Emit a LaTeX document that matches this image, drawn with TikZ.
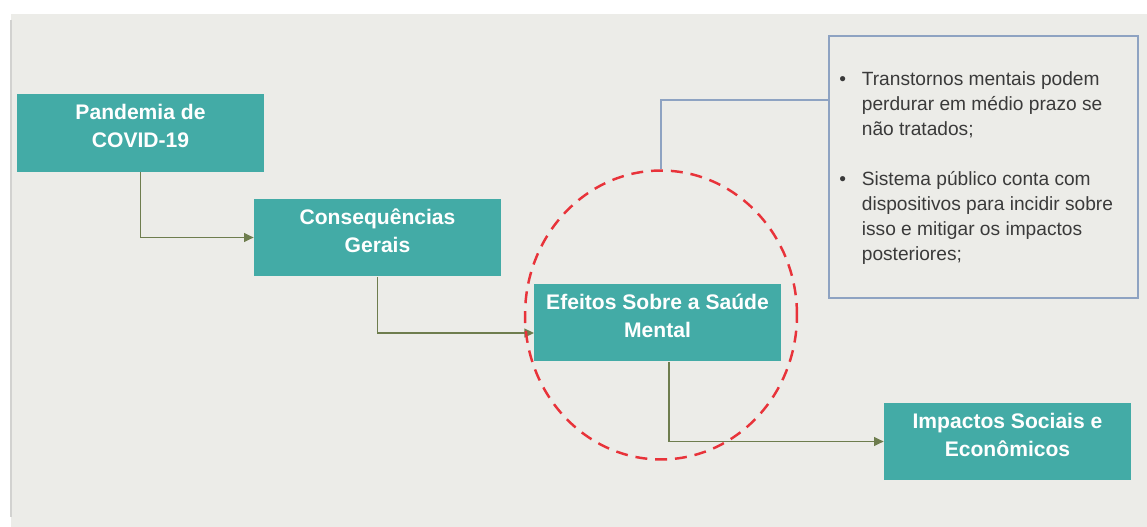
\documentclass[tikz,border=0pt]{standalone}
\usepackage{fontspec}
\setmainfont{Liberation Sans}
\usepackage{tikz}
\usetikzlibrary{arrows.meta, shapes.geometric}
\tikzset{>={Triangle[length=5.5pt, width=5pt]}}

\definecolor{tealbox}{HTML}{43ABA6}
\definecolor{bggray}{HTML}{ECECE8}
\definecolor{edgegray}{HTML}{D2D2D0}
\definecolor{olivearrow}{HTML}{6E7D4E}
\definecolor{circred}{HTML}{E8333A}
\definecolor{infoblue}{HTML}{8EA3C2}
\definecolor{infotext}{HTML}{3A3A3A}

\tikzset{
  stepbox/.style={fill=tealbox, text=white, font=\bfseries\fontsize{12}{16}\selectfont,
    minimum width=4.94cm, minimum height=1.56cm, align=center, inner sep=0pt, text depth=0.28cm},
  flow/.style={->, olivearrow, line width=1pt},
}

\begin{document}
\begin{tikzpicture}[x=0.02cm, y=-0.02cm]
\useasboundingbox (0,0) rectangle (1147,527);
\fill[bggray] (11,14) rectangle (1147,527);
\draw[edgegray, line width=1.2pt] (11,20) -- (11,517);

\node[stepbox] (A) at (140.5,133) {Pandemia de\\COVID-19};
\node[stepbox] (B) at (377.5,237.5) {Consequências\\Gerais};
\node[stepbox] (C) at (657.5,322.5) {Efeitos Sobre a Saúde\\Mental};
\node[stepbox] (D) at (1007.5,441.5) {Impactos Sociais e\\Econômicos};
\coordinate (Cin) at (534,333);
\coordinate (Cd) at (669,362);

\draw[flow](A.south) |- (B.west);
\draw[flow](B.south) |- (Cin);
\draw[flow](Cd) |- (D.west);

\node[draw, ellipse, circred, line width=1.4pt, dash pattern=on 6.8pt off 4.5pt,
  minimum width=5.44cm, minimum height=5.78cm] (E) at (661,315) {};

\node[draw=infoblue, line width=0.8pt, minimum width=6.18cm, minimum height=5.24cm] (T) at (983.5,167) {};
\node[anchor=north west, text=infotext, inner sep=0pt, font=\fontsize{10.9}{14.2}\selectfont] (L) at (839,68) {%
  \begin{tabular}{@{}l@{\hspace{9pt}}l@{}}
  \textbullet & Transtornos mentais podem\\
   & perdurar em médio prazo se\\
   & não tratados;\\[0.5cm]
  \textbullet & Sistema público conta com\\
   & dispositivos para incidir sobre\\
   & isso e mitigar os impactos\\
   & posteriores;
  \end{tabular}};

\draw[infoblue, line width=0.8pt](E.north) |- ([yshift=1.34cm]T.west);

\end{tikzpicture}
\end{document}
